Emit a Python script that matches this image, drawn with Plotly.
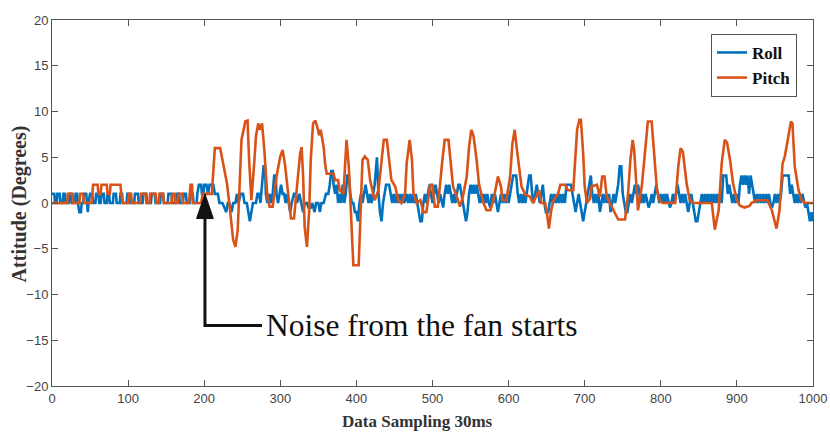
import plotly.graph_objects as go

# ---- data (vertex samples) ----
roll_x = [0,3,4,6,7,10,11,14,15,17,18,22,23,25,26,30,31,33,34,36,38,39,41,42,45,46,47,48,50,53,54,57,58,61,62,64,65,68,69,72,73,75,76,80,81,84,85,89,90,92,93,98,99,102,103,108,109,113,114,119,120,124,125,130,131,135,136,142,143,146,147,152,153,157,158,163,164,167,168,172,173,176,177,181,182,185,186,190,191,193,196,197,199,
          200,203,205,207,212,214,218,220,224,226,229,231,233,236,238,241,243,245,248,251,253,256,258,260,262,264,268,270,272,274,276,278,280,281,283,286,288,290,292,294,295,297,299,301,303,305,307,309,311,313,315,318,320,322,325,327,330,332,335,337,340,342,345,347,350,352,354,357,360,363,365,367,369,370,372,374,376,378,380,382,384,386,388,390,392,394,396,398,400,402,
          404,406,408,410,412,414,416,418,420,422,424,426,427,429,431,433,435,437,439,441,443,445,447,449,451,453,455,457,459,461,463,466,468,470,472,474,476,478,480,482,484,486,488,490,492,494,496,498,500,502,504,506,508,510,512,514,516,518,520,522,524,526,528,530,532,534,536,538,540,542,544,546,548,550,552,554,556,558,560,562,564,566,568,570,572,574,576,578,580,582,584,586,588,590,592,594,596,598,600,
          602,604,606,610,612,614,616,618,620,622,625,627,629,631,633,635,637,639,641,643,645,647,649,652,654,656,658,660,662,664,666,668,670,672,674,676,679,682,684,686,688,690,692,694,696,698,700,702,704,706,708,710,712,714,716,718,720,722,724,726,728,730,732,734,736,738,740,742,744,746,748,750,752,754,756,758,760,762,764,766,768,770,772,774,776,778,780,782,784,786,788,790,792,794,796,798,800,
          802,804,806,808,810,812,814,816,818,820,822,824,826,828,830,832,834,836,838,840,842,844,846,848,850,852,854,856,858,860,862,864,866,868,870,872,874,876,878,880,882,886,888,890,892,894,896,898,900,902,904,906,908,910,912,914,916,918,920,922,924,926,928,930,932,934,936,938,940,942,944,946,948,950,952,954,956,958,960,963,966,968,970,972,974,976,978,980,982,984,986,988,990,992,994,996,998,1000]
roll_y = [1,1,0,0,1,1,0,0,1,1,0,0,1,1,0,0,1,1,0,-1,-1,0,0,1,1,0,-1,0,1,1,0,0,1,1,0,0,1,1,0,0,1,1,0,0,1,1,0,0,1,1,0,0,1,1,0,0,1,1,0,0,1,1,0,0,1,1,0,0,1,1,0,0,1,1,0,0,1,1,0,0,1,1,0,0,1,1,0,0,1,2,2,1,1,
          2,2,1,2,2,1,1,0,0,-0.5,-1,0,0,-1,0,0,1,0,1,1,0,0,-1,-2,-1,0,0,1,1,0,2,4,4,1,0,1,0,1,3,3,1,0,1,2,1,1,0,1,0,-1,0,1,1,0,1,0,-1,0,0,-0.5,-0.5,0,-1,0,0,-1,0,0,1,1,2,3.5,3.5,2,1,2,0,1,0,2,0,1,3,3,1,0,0,-1,-1,-2,
          0,1,0,1,2,1,0,1,0,1,2,4,5,1,-1,-2,0,1,2,2,2,1,0,1,0,1,0,1,0,1,0,1,0,1,0,1,0,1,0,-1,-2,-2,0,1,0,1,2,1,0,1,2,1,0,1,0,-0.5,1,2,1,2,1,0,1,0,1,2,2,1,0,-1,-2,-1,1,2,1,2,1,2,1,0,1,0,1,0,1,0,-0.5,1,0,1,0,-1,0,1,0,1,0,1,0,
          1,2,3,3,1,0,1,0,1,0,2,3,3,1,0,1,2,1,0,1,2,0,-1,-1,0,1,0,1,0,1,0,1,0,1,0,2,2,2,1,0,-1,0,1,0,-1,-2,-1,0,1,2,3,1,0,1,0,1,-1,0,1,0,1,0,1,-1,0,1,0,1,2,4,4,1,0,-1,-1,0,1,0,1,2,1,2,1,0,1,0,1,0,-0.5,0,1,0,1,2,1,0,1,
          0,1,0,1,0,-0.5,0,1,0,1,2,1,0,1,0,1,0,-1,0,1,0,-1,-2,-2,-1,0,1,0,1,0,1,0,1,0,1,0,1,0,1,0,3,3,1,2,1,0,1,0,1,0,2,3,2,3,2,3,1,3,2,1,0,1,0,1,0,1,0,1,0,1,0,-0.5,0,1,0,1,0,1,3,3,3,3,1,2,1,0,1,0,1,0,1,0,-0.5,0,-1,-2,-1,-2]

pitch_x = [0,20,21,27,28,36,37,41,42,52,53,54,60,61,64,65,72,73,76,77,90,91,93,100,101,104,105,116,117,123,124,128,129,136,137,140,141,146,147,157,158,161,162,165,166,171,172,180,181,182,184,185,196,198,
           210,212,214,221,223,225,230,234,238,241,244,247,249,254,257,259,262,266,268,271,273,276,279,283,286,290,295,300,303,306,311,314,318,323,326,328,330,332,335,338,340,343,346,349,351,353,357,359,361,370,372,376,378,383,385,387,390,393,396,403,
           405,408,411,415,418,421,424,429,433,436,440,443,446,451,455,459,464,466,470,473,475,479,484,488,492,497,500,503,507,513,516,521,524,527,532,536,540,545,548,551,554,558,561,567,571,576,580,583,586,590,592,597,602,605,608,611,615,617,622,628,632,637,640,643,648,651,653,656,659,665,668,674,678,685,687,690,693,695,698,700,703,707,709,716,720,723,726,729,733,740,744,753,757,760,763,
           765,768,770,775,779,783,788,791,795,799,803,819,823,826,829,834,838,843,867,871,876,880,884,887,891,895,900,904,910,917,919,926,940,946,952,956,960,963,967,971,973,976,981,985,990,1000]
pitch_y = [0,0,1,1,0,0,1,1,0,0,1,2,2,1,1,2,2,1,1,2,2,1,0,0,1,1,0,0,1,1,0,0,1,1,0,0,1,1,0,0,1,1,0,0,1,1,0,0,1,2,2,0,0,1,
           1,3.7,6,6,5.1,4,2.1,-0.8,-4,-4.8,-3,2.9,6.9,8.9,9,4.7,0.3,4.7,7.3,8.7,8,8.7,5.8,0.7,-0.4,-0.4,2.9,5.1,5.8,4.3,0.7,-1.7,-1.7,2.5,5.4,6.1,2.9,-2.6,-4.8,-0.8,4.7,8.7,9,8.2,7.4,8,6.1,4.2,3.2,3.2,2.5,2.5,1.4,1,4.3,6.9,4,-1.5,-6.8,-6.8,
           -2,4.7,5.1,4.7,2.5,1.4,0.3,1.4,4.7,6.9,6.9,4.7,2.5,1.8,0.3,0,1,4.3,6.9,4.7,1,0,0.3,-1,-1,2,2,-0.4,-0.4,4.7,6.9,6.9,4.7,1.8,0.7,-0.4,0.7,2.9,6.1,8,7.3,4.7,2.1,0,-0.8,-0.8,0.3,1.8,2.9,1.8,0.3,0.3,2.9,6.5,8,5.8,3.2,1.8,0.9,0.7,0,1,1.4,0,0,-1.5,-2.8,-0.8,0.3,1,2,2,1.4,1.4,4.3,8,9.1,9.1,5.4,1.8,0,0.5,1.8,2,0.7,2.9,2.9,0.7,0,-1.1,-1.8,-1.8,1,4.7,6.9,
           5.8,2,-0.8,1.8,5.8,8.9,8.9,5.8,1.4,0.2,0,0,4,6,5.6,2.1,0.3,0,0,-2.9,-0.8,4.3,6.9,6.6,4.7,2.1,0.3,-0.3,-0.5,-0.3,0,0.3,0.3,-0.8,-2.8,-0.8,4.3,5.1,7.2,8.9,8.7,4,1.4,0.3,0,0]

x_ticks = [0,100,200,300,400,500,600,700,800,900,1000]
y_ticks = [-20,-15,-10,-5,0,5,10,15,20]

ROLL_C = "#0072BD"
PITCH_C = "#D95319"
AX_C = "#555555"
SERIF = "Liberation Serif, Times New Roman, serif"

fig = go.Figure()
fig.add_trace(go.Scatter(x=roll_x, y=roll_y, mode="lines", name="<b>Roll</b>",
                         line=dict(color=ROLL_C, width=2.6)))
fig.add_trace(go.Scatter(x=pitch_x, y=pitch_y, mode="lines", name="<b>Pitch</b>",
                         line=dict(color=PITCH_C, width=2.6)))

axis_common = dict(showline=True, linecolor=AX_C, linewidth=1, mirror="ticks",
                   ticks="inside", ticklen=6, tickcolor=AX_C, tickwidth=1,
                   showgrid=False, zeroline=False, automargin=False,
                   tickfont=dict(family="Liberation Sans, Arial, sans-serif", size=13, color="#444444"))

fig.update_xaxes(range=[0, 1000], tickvals=x_ticks, **axis_common)
fig.update_yaxes(range=[-20, 20], tickvals=y_ticks, **axis_common)

# L-shaped arrow pointing at the start of the noise
fig.add_shape(type="path", xref="x", yref="y",
              path="M 276,-13.4 L 201,-13.4 L 201,-1.2",
              line=dict(color="#111111", width=3))
fig.add_shape(type="path", xref="x", yref="y",
              path="M 201,1.0 L 190,-1.7 L 212,-1.7 Z",
              fillcolor="#111111", line=dict(color="#111111", width=1))

fig.add_annotation(x=279, y=-13.4, xref="x", yref="y", text="Noise from the fan starts",
                   showarrow=False, xanchor="left", yanchor="middle",
                   font=dict(family=SERIF, size=31.5, color="#111111"))

# axis titles
fig.add_annotation(x=-0.043, y=0.497, xref="paper", yref="paper", text="<b>Attitude (Degrees)</b>",
                   textangle=-90, showarrow=False, xanchor="center", yanchor="middle",
                   font=dict(family=SERIF, size=20, color="#333333"))
fig.add_annotation(x=0.48, y=-0.096, xref="paper", yref="paper", text="<b>Data Sampling 30ms</b>",
                   showarrow=False, xanchor="center", yanchor="middle",
                   font=dict(family=SERIF, size=17, color="#333333"))

fig.update_layout(
    width=830, height=433,
    margin=dict(l=52, r=17, t=20, b=47, autoexpand=False),
    paper_bgcolor="white", plot_bgcolor="white",
    showlegend=True,
    legend=dict(x=0.979, y=0.962, xanchor="right", yanchor="top",
                bgcolor="white", bordercolor="#555555", borderwidth=1,
                font=dict(family=SERIF, size=17, color="#111111"),
                itemwidth=30, tracegroupgap=0),
)

fig.write_html("out.html")
